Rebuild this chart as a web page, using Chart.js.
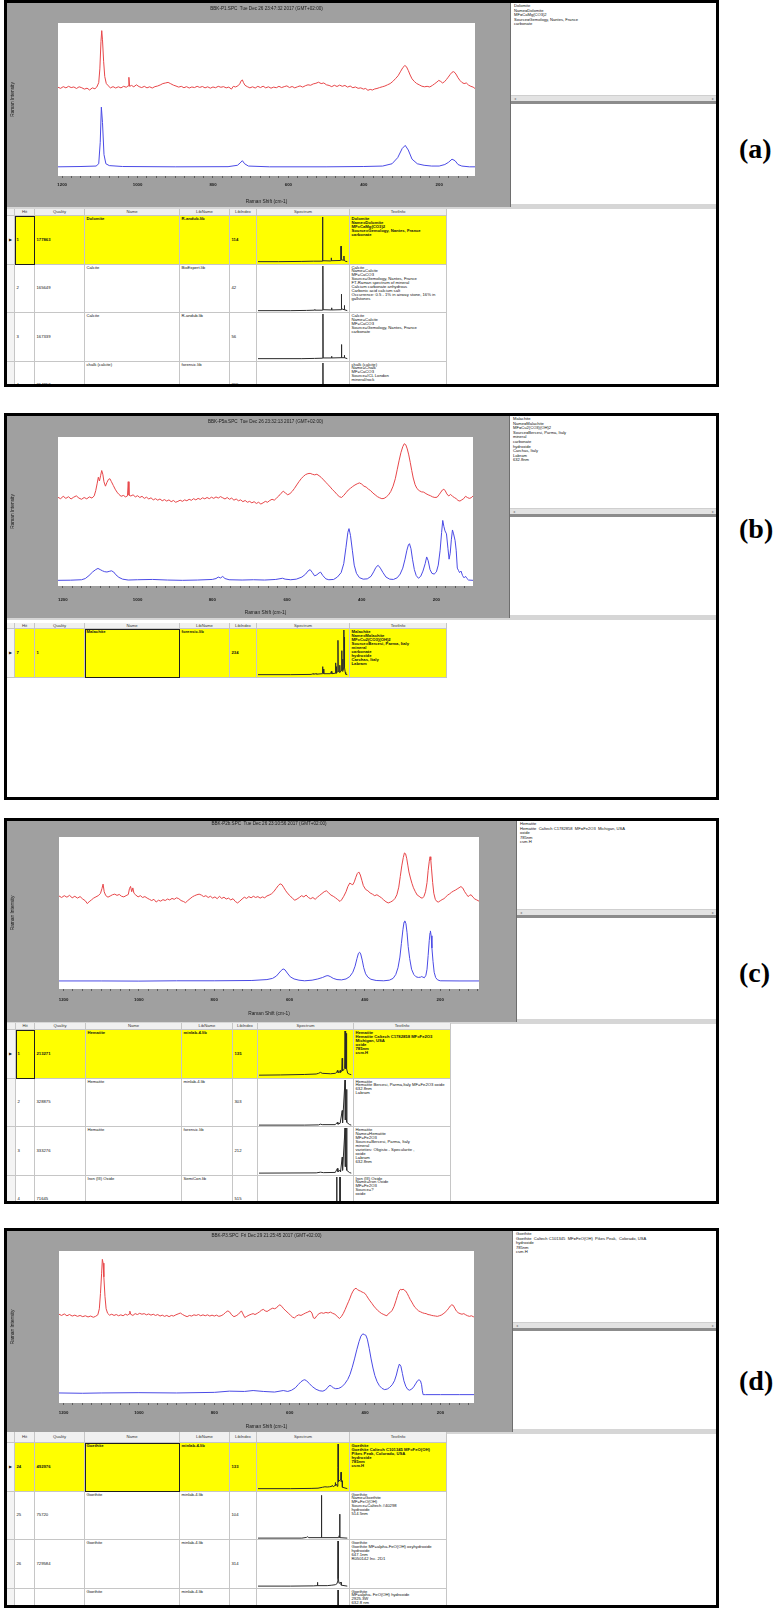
<!DOCTYPE html>
<html lang="en">
<head>
<meta charset="UTF-8">
<title>Raman library search - BBK samples</title>
<script src="https://cdn.jsdelivr.net/npm/chart.js"></script>
<style>
  body { margin: 0; width: 774px; height: 1611px; position: relative; overflow: hidden; background: #fff;
         font-family: "Liberation Sans", Arial, sans-serif; color: #111; }
  .panel { position: absolute; left: 4px; width: 715px; overflow: hidden; background: #fff; }
  .frame { position: absolute; left: 0; top: 0; right: 0; bottom: 0; border: 3px solid #000; box-sizing: border-box; z-index: 5; }
  .abs { position: absolute; box-sizing: border-box; }
  .gray { background: #a0a0a0; }
  .side { background: #fff; border-left: 1px solid #6e6e6e; }
  .sidetext { font-size: 4.1px; line-height: 4.6px; white-space: pre; }
  .scroll { background: #e3e3e3; border-top: 1px solid #cfcfcf; font-size: 4px; color: #888; line-height: 5px; }
  .divider { background: #8c8c8c; }
  .strip { background: #d6d6d6; }
  .cell { border-right: 1px solid #c6c6c6; border-bottom: 1px solid #c6c6c6; font-size: 4.2px; line-height: 3.95px;
          white-space: nowrap; overflow: hidden; padding: 1px 1.5px; background: #fff; }
  .hdr { background: #f0f0f0; text-align: center; color: #333; padding: 0; }
  .mid { display: flex; align-items: center; }
  .hit { background: #ffff00; font-weight: bold; }
  .rowsel { background: #f4f4f4; font-size: 4px; }
  .focus { border: 1.5px solid #1e1e1e; z-index: 2; }
  .tag { position: absolute; left: 739px; font-family: "Liberation Serif", "Times New Roman", serif;
         font-weight: bold; font-size: 28px; line-height: 30px; color: #000; }
</style>
</head>
<body>
<script>
const FONT = '"Liberation Sans", Arial, sans-serif';
const xTickLabels = [1200, 1000, 800, 600, 400, 200];
const minorStep = 25;
const thumbRange = [3900, 0];
const headers = ['', 'Hit', 'Quality', 'Name', 'LibName', 'LibIndex', 'Spectrum', 'TextInfo'];
const ROW_H = 48.5;

// ---- panel (a): BBK-P1 vs dolomite ----
const measuredA = [[1211,58],[1204,57.3],[1197,58.4],[1190,57.6],[1183,58.6],[1176,57.8],[1169,58.2],[1162,57.2],[1155,58.3],[1148,57.7],[1141,56.8],[1134,57.4],[1127,56.2],[1120,57.6],[1113,57],[1108,58.2],[1103,61],[1100,70],[1097,88],[1095,95],[1093,89],[1090,75],[1087,65],[1083,60.5],[1078,59],[1072,57.6],[1065,58.4],[1058,57.5],[1051,58.3],[1044,57.6],[1037,58.6],[1030,58],[1025,58.9],[1023,64.5],[1021,58.6],[1016,59.2],[1010,58.3],[1003,59.6],[996,58.4],[989,57.8],[982,58.6],[975,57.6],[968,58.3],[961,57.5],[954,58.4],[947,58.8],[940,59.5],[933,60.4],[926,60.8],[919,61.2],[912,60.3],[905,59.4],[898,58.8],[891,58.1],[884,58.6],[877,57.7],[870,58.4],[863,57.5],[856,58.2],[849,57.8],[842,58.6],[835,57.9],[828,58.5],[821,57.6],[814,58.3],[807,57.4],[800,58.2],[793,57.7],[786,58.6],[779,58],[772,58.4],[765,57.6],[758,58.1],[751,56.8],[746,58.6],[740,58.2],[734,58.9],[729,60.2],[725,62.3],[722,62.8],[719,61],[715,59.3],[709,58.4],[702,57.6],[695,58.3],[688,57.5],[681,58.6],[674,57.8],[667,58.7],[660,57.6],[653,58.3],[646,57.4],[639,58.1],[632,57.7],[625,58.6],[618,57.8],[611,58.4],[604,58.9],[597,57.8],[590,58.5],[583,57.6],[576,58.3],[569,58.9],[562,58.1],[555,59],[548,59.6],[541,59.3],[534,60.2],[527,60.6],[520,61.3],[513,60.4],[506,60.8],[499,59.6],[492,59.2],[485,58.4],[478,59.3],[471,58.5],[464,59.4],[457,58.6],[450,59.2],[443,58.1],[436,58.8],[429,57.7],[422,58.2],[415,57.3],[408,57.6],[401,56.8],[395,57.2],[389,56],[383,56.6],[377,56.2],[371,56.9],[365,57.2],[358,57.8],[351,58.3],[344,58.8],[337,59.6],[330,60.4],[323,61.8],[316,63.6],[309,65.5],[302,68.5],[296,71],[291,72.2],[287,71.5],[282,69],[277,66],[272,63.5],[266,61.8],[260,60.5],[253,59.6],[246,58.7],[239,58.3],[232,58.6],[225,58.2],[218,59.2],[212,60.3],[206,61.4],[201,62.5],[196,61.8],[191,60.8],[186,61.6],[181,63],[176,64.6],[171,66.3],[166,67.8],[162,68.2],[158,67.5],[154,66],[150,64.2],[145,62.5],[140,61.2],[134,60.4],[128,60.8],[122,59.4],[116,58.6],[110,58.1],[105,57.2]];
const referenceA = [[1211,6],[1150,6.2],[1110,6.5],[1103,8],[1099,22],[1096,45],[1093,35],[1089,14],[1084,8],[1075,6.8],[1040,6.2],[900,6],[760,6.1],[735,7],[728,8.5],[722,10],[716,8],[706,6.5],[650,6],[500,6],[400,6.2],[350,6.5],[325,8],[310,12],[298,18],[290,20],[282,17],[272,11],[258,8],[240,7],[220,6.5],[200,6.5],[185,7.5],[175,9],[166,11],[158,10],[150,7.5],[140,6.5],[120,6],[105,6]];

// ---- panel (b): BBK-P5a vs malachite ----
const measuredB = [[1213,59.5],[1206,58.6],[1199,60.2],[1192,58.8],[1185,59.9],[1178,58.4],[1171,59.6],[1164,60.5],[1157,59],[1150,58.2],[1143,59.4],[1136,58.5],[1129,59.8],[1122,59],[1116,60.5],[1112,64],[1108,69],[1105,73],[1102,70.5],[1099,74],[1096,77.5],[1093,75],[1090,70],[1086,67],[1082,69.5],[1078,71.5],[1074,72],[1070,70],[1065,67.5],[1060,65],[1055,63],[1050,61.5],[1044,60.2],[1038,60.8],[1032,59.8],[1027,60.5],[1025,70],[1023,61],[1018,60.4],[1012,61.2],[1006,59.8],[1000,60.6],[994,59.4],[988,60.2],[982,58.8],[976,59.6],[970,58.4],[964,59.2],[958,57.8],[952,58.6],[946,57.6],[940,58.4],[934,57.2],[928,58],[922,57],[916,57.8],[910,56.6],[904,57.4],[898,56.2],[892,56.8],[886,57.6],[880,56.8],[874,57.8],[868,57.2],[862,58.2],[856,57.5],[850,58.6],[844,57.8],[838,58.8],[832,58.1],[826,59.2],[820,58.5],[814,59.4],[808,58.6],[802,59.6],[796,58.8],[790,59.8],[784,59],[778,60],[772,59.2],[766,58.4],[760,59.4],[754,58.2],[748,59],[742,57.6],[736,58.4],[730,57.2],[724,57.8],[718,56.6],[712,57.4],[706,56.2],[700,56.8],[694,55.8],[688,56.6],[682,55.4],[676,56.2],[670,55],[664,55.8],[658,56.8],[652,56.2],[646,57.4],[640,58.2],[634,57.6],[628,59],[622,60.4],[616,62.2],[610,63.6],[604,62.4],[598,61.2],[592,62],[586,63.5],[580,65.5],[574,67.8],[568,70],[562,72],[556,73.6],[550,74.8],[544,75.4],[538,75.6],[532,75],[526,74.6],[520,75],[514,74],[508,72.8],[502,71.2],[496,69.6],[490,68],[484,66.4],[478,64.6],[472,63.2],[466,61.4],[460,60],[454,59.4],[448,60.8],[442,62.6],[436,64.4],[430,65.6],[424,66.8],[418,67.8],[412,68.6],[406,69.2],[400,68.4],[394,67],[388,66.4],[382,65],[376,64],[370,62.4],[364,61.2],[358,60],[352,59.2],[346,58.6],[340,58.8],[334,59.8],[328,61.2],[322,63.5],[316,67],[310,72],[305,78],[300,84],[295,89.5],[290,93.5],[286,95.5],[282,94.8],[278,92],[274,88],[270,83],[266,77.5],[262,72.5],[257,68],[252,65.4],[246,64],[240,63.2],[234,63],[228,62],[222,61.2],[216,60.6],[210,59.8],[204,59.4],[198,59.6],[193,61.2],[188,63],[184,64.4],[180,65],[176,63.8],[172,61.8],[167,60.4],[162,61.5],[157,60.2],[152,59.4],[147,58.6],[142,57.4],[137,57],[132,57.8],[127,58.6],[122,60.2],[117,59.4],[112,58.8],[107,59.2],[102,60.4]];
const referenceB = [[1213,3.8],[1180,3.9],[1150,4.2],[1140,5],[1130,7],[1120,9.5],[1112,11],[1106,11.8],[1100,11],[1094,10.2],[1088,9.6],[1082,9.4],[1076,9.8],[1070,10.2],[1064,9.4],[1058,7.5],[1050,5.8],[1040,4.6],[1025,4],[1000,4.2],[960,4.4],[920,4],[880,3.8],[840,4],[800,4.4],[790,5],[784,6],[778,5.4],[772,6.4],[766,5],[755,4.2],[720,4],[690,4.2],[660,4],[630,4.4],[612,5.2],[605,4.6],[590,4.2],[575,4.6],[560,6],[550,8],[544,10],[538,11],[532,9],[526,6.8],[520,7.5],[514,8.8],[510,9.3],[504,7],[496,4.8],[488,4.2],[475,4.4],[465,6],[455,9],[448,15],[442,26],[437,36],[434,38.5],[430,34],[425,24],[420,14],[414,8.5],[406,5.6],[396,4.6],[385,4.8],[375,6.5],[368,9.5],[362,12.5],[356,13.9],[350,12],[343,9],[335,6],[325,4.6],[315,4.4],[305,5.5],[297,8],[290,12],[284,18],[279,24],[275,27.5],[272,28.4],[268,25],[264,18],[259,11],[254,7],[248,5.2],[242,6.5],[236,10],[230,15],[226,19.5],[222,17],[217,11],[212,8.5],[206,8],[200,9.5],[195,14],[190,24],[186,36],[183,44],[180,40],[177,37],[173,35],[169,25],[166,18],[163,22],[160,31],[157,37.6],[154,35],[150,30.6],[147,24],[144,12],[141,10.5],[138,9],[134,10],[130,7],[126,5.5],[122,6.5],[118,5],[114,4],[102,3.8]];

// ---- panel (c): BBK-P2b vs hematite ----
const measuredC = [[1212,61.2],[1205,60.2],[1198,61.4],[1191,60.4],[1184,61.6],[1177,60],[1170,61],[1163,59.8],[1156,60.8],[1149,59.2],[1142,58],[1137,56.2],[1132,57.4],[1126,58.6],[1120,59.8],[1114,60.6],[1108,61.4],[1102,62.8],[1098,66],[1095,69],[1092,64],[1088,61.5],[1082,60.4],[1076,61.2],[1070,62],[1064,62.4],[1058,61.6],[1052,62.2],[1046,61],[1040,60.6],[1034,61.4],[1028,62.2],[1025,66],[1022,67.5],[1019,64],[1016,66.5],[1013,63],[1008,61.8],[1002,60.6],[996,61.4],[990,60.2],[984,60.8],[978,59.8],[972,59],[966,58.2],[960,59],[954,57.2],[948,58.4],[942,57.8],[936,58.8],[930,58.2],[924,59.2],[918,58.6],[912,59.6],[906,59],[900,60],[894,59.4],[888,58.2],[882,57.6],[876,56.8],[870,58.2],[864,59.4],[858,60.6],[852,61.4],[846,62],[840,62.4],[834,61.8],[828,60.8],[822,61.4],[816,60.2],[810,61],[804,59.8],[798,60.6],[792,59.4],[786,61],[780,59.6],[774,60.4],[768,59.2],[762,59.8],[756,58.6],[750,59.4],[744,57.6],[738,56.6],[732,57.8],[726,59.2],[720,60.4],[714,59.6],[708,60.8],[702,60],[696,61],[690,60.2],[684,60.8],[678,59.8],[672,60.6],[666,60],[660,61.2],[654,61.8],[648,62.6],[642,64],[636,66],[630,68],[625,69.2],[620,68.6],[615,66.6],[610,64.6],[604,62.6],[598,61.2],[592,59.6],[586,58.4],[580,59.2],[574,60.2],[568,61.4],[562,60.6],[556,61.8],[550,60.2],[544,59.4],[538,60.2],[532,59],[526,60.4],[520,61.6],[514,62.8],[508,64],[502,64.6],[496,63.2],[490,61.8],[484,61],[478,60],[472,58.8],[466,57.6],[462,58.6],[456,61],[450,64],[445,67.5],[440,69.7],[436,69],[432,68.6],[428,70.5],[424,73.5],[420,76],[416,77],[412,75],[408,71.5],[404,68],[398,65.5],[392,64.6],[386,63.2],[380,62.4],[374,61.4],[368,62],[362,61],[356,60],[350,58.6],[344,57.4],[338,56.6],[332,57.2],[326,58],[320,59.6],[315,62],[310,67],[306,74],[302,81],[298,86.5],[295,89.5],[292,89],[289,86],[286,81.5],[283,77],[279,73],[275,69.5],[271,66.6],[266,64],[261,61.8],[256,61],[251,60],[247,59.8],[243,61],[239,64],[235,70],[232,78],[229,84],[227,87],[225,85],[223,79],[220,70],[217,63],[213,59],[209,57.6],[205,57.2],[200,58],[195,58.8],[190,59.4],[185,60.6],[180,61.8],[175,62.6],[170,63.6],[165,64.4],[160,65],[155,65.8],[150,66.6],[145,67.4],[140,66.4],[135,64],[130,62.2],[126,60.8],[122,61.6],[118,62],[113,60.4],[108,59.2],[103,58.6],[97,57.8]];
const referenceC = [[1212,5.3],[1100,5.3],[1000,5.2],[900,5.4],[800,5.4],[700,5.6],[660,6.2],[645,7],[635,8.5],[628,10.5],[622,12.2],[617,13.2],[612,12.6],[606,10.5],[598,8],[588,6.6],[575,5.8],[560,5.4],[540,5.8],[525,6.6],[512,7.6],[503,8.6],[498,8.8],[492,8.2],[484,7],[474,6.2],[462,6],[450,6.6],[440,8.2],[432,11],[426,15],[421,20],[417,23.5],[414,24.2],[411,23],[407,19],[403,14],[398,10],[392,7.8],[384,6.4],[370,5.6],[350,5.4],[335,5.8],[325,7],[318,9.5],[312,14],[307,21],[303,30],[299,39],[296,44],[294,44.8],[291,43],[288,37],[285,28],[281,20],[276,13],[270,9.5],[264,8],[258,7.6],[252,7.8],[249,8.2],[246,7.8],[242,7.4],[238,9],[235,13],[232,22],[229,32],[227,37],[226,38.2],[224,35],[222,27],[219,18],[216,11],[212,7.5],[207,6],[200,5.4],[150,5.3],[97,5.3]];

// ---- panel (d): BBK-P3 vs goethite ----
const measuredD = [[1212,58.4],[1205,57.6],[1198,58.6],[1191,57.4],[1184,58.2],[1177,57.2],[1170,57.8],[1163,57],[1156,57.6],[1149,56.8],[1142,57.4],[1135,56.6],[1128,57.2],[1121,56.4],[1115,57],[1109,58],[1105,62],[1102,72],[1099,85],[1097,94.5],[1095,92],[1093,83],[1090,70],[1087,62],[1083,59],[1078,57.8],[1072,58.4],[1066,57.6],[1060,58.2],[1054,57.4],[1048,58],[1042,57.4],[1036,58.4],[1030,57.8],[1026,58.6],[1024,60.4],[1022,58.4],[1016,57.6],[1010,58.8],[1004,58.2],[998,59],[992,58.4],[986,58.8],[980,58],[974,58.6],[968,57.8],[962,58.4],[956,57.6],[950,58.2],[944,57.2],[938,57.8],[932,57],[926,57.6],[920,56.8],[914,57.6],[908,57.2],[902,58],[896,58.6],[890,59.2],[884,58.2],[878,57.4],[872,56.8],[866,57.6],[860,57.2],[854,58],[848,57.6],[842,58.2],[836,57.4],[830,58],[824,57.4],[818,58],[812,57.2],[806,57.8],[800,57.2],[794,57.8],[788,57],[782,57.4],[776,58.2],[770,59.6],[764,60.6],[759,59.8],[754,58],[748,56.8],[742,57.4],[736,58.4],[731,59.8],[728,60.6],[724,58.6],[719,56.2],[714,57],[708,57.8],[702,58.4],[697,58.8],[692,58.2],[686,59],[680,60],[675,61],[670,61.6],[665,60.6],[660,60.2],[655,61],[650,61.8],[645,62.4],[640,62],[635,62.6],[630,64],[626,64.6],[621,63.6],[616,62],[610,60.6],[604,59.2],[598,57.8],[592,56.4],[587,56],[582,57.2],[576,58],[570,57.6],[564,58.4],[558,59.2],[552,59.8],[546,60.6],[541,59.2],[537,56],[533,55.6],[528,57.4],[522,58.8],[516,59.4],[510,59],[504,59.6],[498,59.2],[492,59.8],[486,59],[480,58.4],[474,57],[468,55.6],[463,56.8],[458,58.8],[453,61.4],[448,64.4],[444,66.6],[440,69],[436,71.6],[432,73.6],[428,75],[424,75.5],[420,74.6],[416,74],[412,73.6],[408,73],[404,72.6],[400,72],[396,70.6],[392,69],[387,67.2],[382,65.6],[377,63.8],[372,62.4],[367,61],[362,60],[357,59],[352,58.4],[347,57.8],[342,57.4],[338,58.8],[333,59.6],[328,61],[323,63.6],[318,67.4],[314,70.6],[310,73.6],[306,74.8],[302,74.4],[299,75],[296,74.2],[292,73.6],[288,72],[284,70],[280,68],[276,66.4],[272,64.6],[268,63],[263,61.8],[258,60.6],[253,60],[248,59.4],[243,59],[238,58.8],[233,58.2],[228,58],[223,57.6],[218,57.4],[213,57.2],[208,57],[203,57.4],[198,57.8],[193,58.6],[188,59.6],[183,60.8],[178,62.4],[174,63.8],[170,64.6],[166,64.2],[162,62.4],[158,60.6],[153,59.4],[148,58.8],[143,58.4],[138,58.8],[133,58],[128,57.4],[123,57],[118,57.4],[113,56.8],[111,56.6]];
const referenceD = [[1212,6.6],[1150,6.4],[1100,6.6],[1000,6.8],[900,6.6],[800,7],[760,7.8],[720,7.6],[697,8.2],[670,7.6],[640,7.2],[617,8.2],[605,7.6],[595,8.4],[585,10],[577,12.2],[570,14],[564,15],[560,15.3],[555,14.6],[548,12.8],[540,10.8],[530,9],[520,8],[512,7.8],[505,8.6],[500,10],[496,11.2],[493,11.6],[489,11],[484,10],[478,9.4],[470,9.6],[462,10.6],[454,12.6],[446,15.5],[440,18.8],[434,23.5],[428,29],[422,35],[416,40.4],[411,44],[406,45.5],[402,45],[398,44.6],[394,42],[389,36],[384,29],[379,23],[374,18],[368,14],[362,11.4],[355,9.6],[348,8.8],[341,9.2],[335,10.2],[328,12],[322,14.6],[317,18.4],[313,22.5],[309,25.6],[305,24.2],[301,19.5],[297,14.6],[292,11],[287,9],[282,8.4],[276,9.2],[271,10.6],[266,12.6],[261,14.6],[257,15.3],[253,14.6],[250,12],[248,8],[246,5.5],[240,5.5],[200,5.5],[150,5.5],[111,5.5]];

// ---- library thumbnails (Spectrum column) ----
const thumbA1 = [[3900,5],[3000,5],[2000,5.5],[1500,6],[1120,6],[1104,7],[1097,100],[1090,7],[760,6.5],[732,7],[725,13],[718,7],[330,7.5],[306,9],[300,38],[294,9],[190,8],[176,17],[168,8],[120,6],[30,5]];
const thumbA2 = [[3900,5],[2500,5],[1800,5.5],[1450,6],[1436,7.5],[1425,6],[1100,6],[1092,7],[1086,100],[1080,7],[730,6.5],[712,11],[700,6.5],[300,7],[288,9],[282,40],[276,9],[165,7],[156,16],[148,7],[30,5]];
const thumbA3 = [[3900,5],[2000,5],[1450,5.5],[1100,6],[1086,100],[1078,6.5],[730,6.5],[712,10],[700,6.5],[300,7],[282,35],[274,7],[160,7],[156,12],[150,7],[30,5]];
const thumbA4 = [[3900,5],[1100,6],[1086,100],[1078,6],[712,10],[700,6],[282,35],[274,6],[156,12],[30,5]];
const thumbB1 = [[3900,5],[2500,5],[1600,5.5],[1500,7],[1490,6],[1370,7],[1360,6],[1120,7],[1100,22],[1090,9],[1062,17],[1050,7],[760,7],[720,12],[700,7],[560,8],[535,30],[520,14],[510,22],[495,8],[445,12],[435,78],[425,12],[365,10],[355,25],[345,10],[285,14],[272,56],[262,14],[235,12],[226,38],[218,14],[195,20],[182,100],[175,60],[168,30],[160,70],[155,85],[148,30],[140,20],[120,10],[100,6],[30,5]];
const thumbC1 = [[3900,6],[3000,6.5],[2000,7.5],[1500,8.5],[1400,10],[1320,12],[1250,10],[900,9],[700,10],[640,12],[612,16],[590,12],[520,12],[497,16],[480,12],[430,14],[411,42],[395,15],[310,20],[292,100],[280,25],[255,20],[245,40],[238,22],[230,40],[225,95],[218,20],[180,10],[100,8],[30,7]];
const thumbC2 = [[3900,4],[2000,4],[1400,4.5],[1320,6],[1250,5],[700,5],[612,10],[590,6],[497,8],[411,35],[395,9],[292,100],[280,15],[245,18],[225,80],[215,10],[100,5],[30,4]];
const thumbC3 = [[3900,4],[1500,4.5],[1320,6],[1200,5],[700,5.5],[612,14],[590,7],[497,10],[480,7],[411,38],[395,10],[292,100],[280,18],[245,22],[225,100],[215,10],[100,5],[30,4]];
const thumbC4 = [[3900,4],[700,4],[645,5],[640,100],[635,5],[508,5],[503,100],[498,5],[30,4]];
const thumbD1 = [[3900,5],[2500,5],[1600,5.5],[1300,6],[1100,8],[1000,9],[900,8.5],[800,9],[700,10],[680,12],[640,9],[560,12],[550,18],[540,12],[480,14],[470,10],[445,20],[435,50],[430,100],[424,45],[400,20],[310,25],[300,40],[290,20],[250,18],[245,22],[240,8],[30,5]];
const thumbD2 = [[3900,4],[2000,4],[1800,5.5],[1750,7],[1700,5],[1160,5],[1150,95],[1140,5],[400,5],[385,9],[360,5],[355,55],[348,5],[30,4]];
const thumbD3 = [[3900,4],[2500,4],[1500,4.5],[1340,5],[1325,12],[1310,5],[900,5],[700,6],[550,7],[480,9],[440,15],[430,100],[420,20],[390,10],[300,12],[290,6],[30,4]];
const thumbD4 = [[3900,4],[1000,4.5],[440,10],[430,100],[420,10],[30,4]];

const sideA = ['Dolomite', 'Name=Dolomite', 'MF=CaMg(CO3)2', 'Source=Gemology, Nantes, France', 'carbonate'];
const sideB = ['Malachite', 'Name=Malachite', 'MF=Cu2(CO3)(OH)2', 'Source=Bercesi, Parma, Italy', 'mineral', 'carbonate', 'hydroxide', 'Carchas, Italy', 'Labram', '632.8nm'];
const sideC = ['Hematite', 'Hematite  Caltech C1782858  MF=Fe2O3  Michigan, USA', 'oxide', '785nm', 'csm.H'];
const sideD = ['Goethite', 'Goethite  Caltech C101345  MF=FeO(OH)  Pikes Peak,  Colorado, USA', 'hydroxide', '785nm', 'csm.H'];

const rowsA = [
  { hit: '1', quality: '177863', name: 'Dolomite', lib: 'R-andub.lib', index: '114', spectrum: thumbA1,
    info: ['Dolomite', 'Name=Dolomite', 'MF=CaMg(CO3)2', 'Source=Gemology, Nantes, France', 'carbonate'] },
  { hit: '2', quality: '165649', name: 'Calcite', lib: 'BioExpert.lib', index: '42', spectrum: thumbA2,
    info: ['Calcite', 'Name=Calcite', 'MF=CaCO3', 'Source=Gemology, Nantes, France', 'FT-Raman spectrum of mineral', 'Calcium carbonate anhydrous', 'Carbonic acid calcium salt', 'Occurrence: 0.5 - 1% in airway stone, 16% in', 'gallstones'] },
  { hit: '3', quality: '167339', name: 'Calcite', lib: 'R-andub.lib', index: '56', spectrum: thumbA3,
    info: ['Calcite', 'Name=Calcite', 'MF=CaCO3', 'Source=Gemology, Nantes, France', 'carbonate'] },
  { hit: '4', quality: '214853', name: 'chalk (calcite)', lib: 'forensic.lib', index: '265', spectrum: thumbA4,
    info: ['chalk (calcite)', 'Name=Chalk', 'MF=CaCO3', 'Source=ICL London', 'mineral/rock'] }
];
const rowsB = [
  { hit: '7', quality: '1', name: 'Malachite', lib: 'forensic.lib', index: '234', spectrum: thumbB1,
    info: ['Malachite', 'Name=Malachite', 'MF=Cu2(CO3)(OH)2', 'Source=Bercesi, Parma, Italy', 'mineral', 'carbonate', 'hydroxide', 'Carchas, Italy', 'Labram'] }
];
const rowsC = [
  { hit: '1', quality: '213271', name: 'Hematite', lib: 'minlab-4.lib', index: '135', spectrum: thumbC1,
    info: ['Hematite', 'Hematite  Caltech C1782858  MF=Fe2O3', 'Michigan, USA', 'oxide', '785nm', 'csm.H'] },
  { hit: '2', quality: '328875', name: 'Hematite', lib: 'minlab-4.lib', index: '303', spectrum: thumbC2,
    info: ['Hematite', 'Hematite Bercesi, Parma,Italy  MF=Fe2O3  oxide', '632.8nm', 'Labram'] },
  { hit: '3', quality: '333276', name: 'Hematite', lib: 'forensic.lib', index: '212', spectrum: thumbC3,
    info: ['Hematite', 'Name=Hematite', 'MF=Fe2O3', 'Source=Bercesi, Parma, Italy', 'mineral', 'varieties: Oligisto - Specularite ,', 'oxide', 'Labram', '632.8nm'] },
  { hit: '4', quality: '71645', name: 'Iron (III) Oxide', lib: 'SemiCon.lib', index: '515', spectrum: thumbC4,
    info: ['Iron (III) Oxide', 'Name=Iron Oxide', 'MF=Fe2O3', 'Source=?', 'oxide'] }
];
const rowsD = [
  { hit: '24', quality: '492976', name: 'Goethite', lib: 'minlab-4.lib', index: '133', spectrum: thumbD1,
    info: ['Goethite', 'Goethite  Caltech C101345  MF=FeO(OH)', 'Pikes Peak,  Colorado, USA', 'hydroxide', '785nm', 'csm.H'] },
  { hit: '25', quality: '75720', name: 'Goethite', lib: 'minlab-4.lib', index: '104', spectrum: thumbD2,
    info: ['Goethite', 'Name=Goethite', 'MF=FeO(OH)', 'Source=Caltech #40298', 'hydroxide', '514.5nm'] },
  { hit: '26', quality: '729584', name: 'Goethite', lib: 'minlab-4.lib', index: '314', spectrum: thumbD3,
    info: ['Goethite', 'Goethite  MF=alpha-FeO(OH)  oxyhydroxide', 'hydroxide', '647.1nm', 'R050142  Inc.  2D1'] },
  { hit: '27', quality: '75423', name: 'Goethite', lib: 'minlab-4.lib', index: '97', spectrum: thumbD4,
    info: ['Goethite', 'MF=alpha- FeO(OH)  hydroxide', '2925.3W', '632.8 nm'] }
];

const colsStd = [3, 11, 31, 81, 176, 226, 253, 346, 443];
const colsC = [3, 12, 31, 82, 178, 229, 254, 350, 447];

const panels = [
  { tag: '(a)', tagY: 149, top: 0, height: 387, grayW: 506, grayH: 207, area: { l: 54, r: 471, t: 23, b: 176 },
    xMin: 105, xMax: 1211, title: 'BBK-P1.SPC  Tue Dec 26 23:47:32 2017 (GMT+02:00)', titleY: 9, tickGap: 9, xTitleY: 202,
    scrollTop: 95, hdrTop: 209, hdrH: 7, cols: colsStd, focus: 1,
    measured: measuredA, reference: referenceA, side: sideA, rows: rowsA },
  { tag: '(b)', tagY: 529, top: 413, height: 387, grayW: 505, grayH: 205, area: { l: 54, r: 469, t: 24, b: 173 },
    xMin: 102, xMax: 1213, title: 'BBK-P5a.SPC  Tue Dec 26 23:32:13 2017 (GMT+02:00)', titleY: 9, tickGap: 14, xTitleY: 200,
    scrollTop: 95, hdrTop: 210, hdrH: 6, cols: colsStd, focus: 3,
    measured: measuredB, reference: referenceB, side: sideB, rows: rowsB },
  { tag: '(c)', tagY: 973, top: 818, height: 386, grayW: 512, grayH: 204, area: { l: 55, r: 475, t: 19, b: 171 },
    xMin: 97, xMax: 1212, title: 'BBK-P2b.SPC  Tue Dec 26 23:10:56 2017 (GMT+02:00)', titleY: 6, tickGap: 11, xTitleY: 196,
    scrollTop: 91, hdrTop: 205, hdrH: 7, cols: colsC, focus: 1,
    measured: measuredC, reference: referenceC, side: sideC, rows: rowsC },
  { tag: '(d)', tagY: 1381, top: 1228, height: 380, grayW: 508, grayH: 204, area: { l: 55, r: 470, t: 23, b: 175 },
    xMin: 111, xMax: 1212, title: 'BBK-P3.SPC  Fri Dec 29 21:25:45 2017 (GMT+02:00)', titleY: 8, tickGap: 10, xTitleY: 199,
    scrollTop: 94, hdrTop: 204, hdrH: 11, cols: colsStd, focus: 3,
    measured: measuredD, reference: referenceD, side: sideD, rows: rowsD }
];

// white plotting area on the grey window
const plotBg = {
  id: 'plotBg',
  beforeDraw(chart) {
    const a = chart.chartArea, c = chart.ctx;
    c.save();
    c.fillStyle = '#fff';
    c.fillRect(a.left, a.top, a.right - a.left, a.bottom - a.top);
    c.restore();
  }
};

function box(parent, cls, x, y, w, h, html) {
  const d = document.createElement('div');
  d.className = 'abs ' + cls;
  d.style.left = x + 'px';
  d.style.top = y + 'px';
  d.style.width = w + 'px';
  d.style.height = h + 'px';
  if (html != null) d.innerHTML = html;
  parent.appendChild(d);
  return d;
}

function mainChart(parent, p) {
  const g = box(parent, 'gray', 0, 0, p.grayW, p.grayH);
  const cv = document.createElement('canvas');
  cv.width = p.grayW;
  cv.height = p.grayH;
  g.appendChild(cv);
  const tickVals = [];
  for (let v = 1200; v > p.xMin; v -= minorStep) tickVals.push(v);
  new Chart(cv, {
    type: 'line',
    data: {
      datasets: [
        { data: p.measured, borderColor: '#e8474a', borderWidth: 1, pointRadius: 0 },
        { data: p.reference, borderColor: '#4b4be6', borderWidth: 1, pointRadius: 0 }
      ]
    },
    options: {
      responsive: false, animation: false, events: [],
      layout: { padding: { left: 0, right: p.grayW - p.area.r, top: 0, bottom: 0 } },
      plugins: {
        legend: { display: false },
        tooltip: { enabled: false },
        title: {
          display: true, fullSize: false, text: p.title, color: '#1a1a1a',
          font: { family: FONT, size: 4.6, lineHeight: '6px', weight: 'normal' },
          padding: { top: p.titleY - 3, bottom: p.area.t - p.titleY - 3 }
        }
      },
      scales: {
        x: {
          type: 'linear', reverse: true, min: p.xMin, max: p.xMax,
          afterBuildTicks: s => { s.ticks = tickVals.map(v => ({ value: v })); },
          afterFit: s => { s.height = p.grayH - p.area.b; },
          grid: { drawOnChartArea: false, tickLength: 2, color: '#4a4a4a', lineWidth: 0.8 },
          border: { display: false },
          ticks: {
            autoSkip: false, maxRotation: 0, padding: p.tickGap - 5, color: '#1a1a1a',
            font: { family: FONT, size: 4.3, weight: 'bold', lineHeight: '6px' },
            callback: v => xTickLabels.includes(v) ? String(v) : ''
          },
          title: {
            display: true, text: 'Raman Shift (cm-1)', color: '#1a1a1a',
            font: { family: FONT, size: 4.8, lineHeight: '6px' },
            padding: { top: 0, bottom: p.grayH - p.xTitleY - 3 }
          }
        },
        y: {
          min: 0, max: 100,
          ticks: { display: false }, grid: { display: false }, border: { display: false },
          afterFit: s => { s.width = p.area.l; },
          title: {
            display: true, text: 'Raman Intensity', color: '#1a1a1a',
            font: { family: FONT, size: 4.8, lineHeight: '6px' },
            padding: { top: 6, bottom: 0 }
          }
        }
      }
    },
    plugins: [plotBg]
  });
}

function thumb(parent, data, w, h) {
  const cv = document.createElement('canvas');
  cv.width = w;
  cv.height = h;
  parent.appendChild(cv);
  new Chart(cv, {
    type: 'line',
    data: { datasets: [{ data: data, borderColor: '#2b2b2b', borderWidth: 1, pointRadius: 0 }] },
    options: {
      responsive: false, animation: false, events: [],
      layout: { padding: { top: 1, bottom: 0, left: 1, right: 1 } },
      plugins: { legend: { display: false }, tooltip: { enabled: false } },
      scales: {
        x: { type: 'linear', display: false, reverse: true, min: thumbRange[1], max: thumbRange[0] },
        y: { display: false, min: 0, max: 100 }
      }
    }
  });
}

function sidePane(parent, p) {
  const w = 715 - p.grayW;
  const s = box(parent, 'side', p.grayW, 0, w, p.grayH);
  box(s, 'sidetext', 3, 4, w - 6, p.scrollTop - 4, p.side.join('\n'));
  box(s, 'scroll', 0, p.scrollTop, w, 6,
      '<span style="position:absolute;left:3px">&#9666;</span><span style="position:absolute;right:6px">&#9656;</span>');
  box(s, 'divider', 0, p.scrollTop + 6, w, 3);
  box(s, 'strip', 0, p.grayH - 3, w, 3);
}

function hitTable(parent, p) {
  const c = p.cols;
  headers.forEach((h, i) => {
    const d = box(parent, 'cell hdr', c[i], p.hdrTop, c[i + 1] - c[i], p.hdrH, h);
    d.style.lineHeight = (p.hdrH - 1) + 'px';
  });
  p.rows.forEach((r, k) => {
    const y = p.hdrTop + p.hdrH + k * ROW_H;
    const hi = k === 0 ? ' hit' : '';
    const wid = i => c[i + 1] - c[i];
    box(parent, 'cell rowsel mid', c[0], y, wid(0), ROW_H, k === 0 ? '&#9654;' : '');
    box(parent, 'cell mid' + hi, c[1], y, wid(1), ROW_H, r.hit);
    box(parent, 'cell mid' + hi, c[2], y, wid(2), ROW_H, r.quality);
    box(parent, 'cell' + hi, c[3], y, wid(3), ROW_H, r.name);
    box(parent, 'cell' + hi, c[4], y, wid(4), ROW_H, r.lib);
    box(parent, 'cell mid' + hi, c[5], y, wid(5), ROW_H, r.index);
    const sp = box(parent, 'cell' + hi, c[6], y, wid(6), ROW_H);
    sp.style.padding = '0';
    thumb(sp, r.spectrum, Math.round(wid(6)) - 1, Math.round(ROW_H) - 1);
    box(parent, 'cell' + hi, c[7], y, wid(7), ROW_H, r.info.join('<br>'));
    if (k === 0) box(parent, 'focus', c[p.focus], y, wid(p.focus), ROW_H);
  });
}

panels.forEach(p => {
  const el = document.createElement('div');
  el.className = 'panel';
  el.style.top = p.top + 'px';
  el.style.height = p.height + 'px';
  document.body.appendChild(el);
  mainChart(el, p);
  sidePane(el, p);
  box(el, 'strip', 0, p.grayH, 715, 2);
  hitTable(el, p);
  const fr = document.createElement('div');
  fr.className = 'frame';
  el.appendChild(fr);

  const t = document.createElement('div');
  t.className = 'tag';
  t.style.top = (p.tagY - 15) + 'px';
  t.textContent = p.tag;
  document.body.appendChild(t);
});
</script>
</body>
</html>
